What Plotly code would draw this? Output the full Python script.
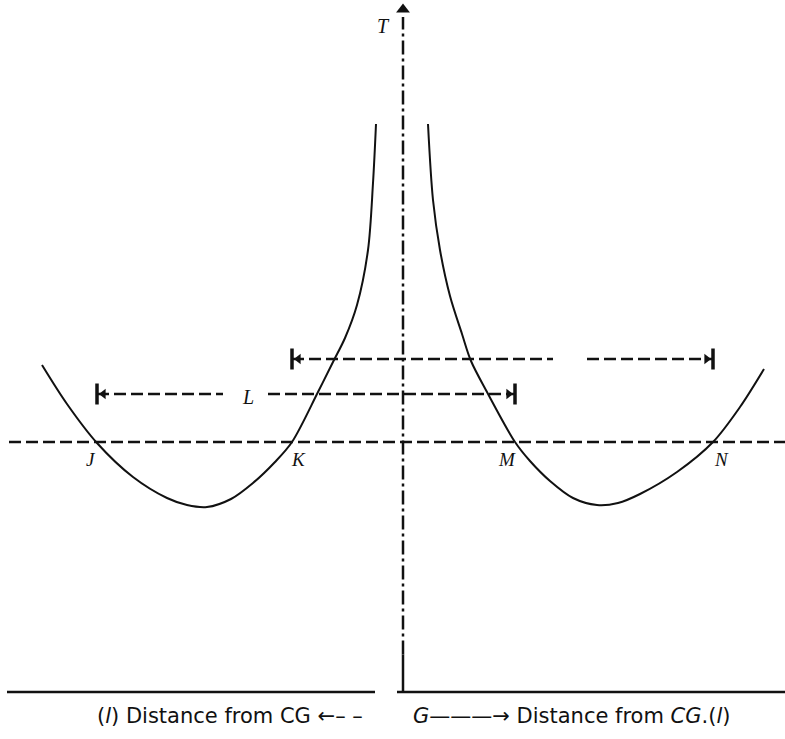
import plotly.graph_objects as go

# Period T of a compound pendulum against the pivot's distance from the centre of gravity G
# Right branch (pivot on the positive side of G): distance (cm), period (s)
dist_right = [6.25, 7.5, 9.25, 11.75, 14.75, 17.0, 21.0, 28.0, 31.75, 36.75, 42.5, 48.5,
              53.75, 59.25, 68.5, 77.5, 84.25, 90.25]
period_right = [4.544, 3.936, 3.536, 3.168, 2.864, 2.648, 2.4, 2.0, 1.848, 1.688, 1.552, 1.496,
                1.512, 1.584, 1.76, 2.0, 2.28, 2.584]

# Left branch (pivot on the negative side of G)
dist_left = [-6.75, -7.5, -8.75, -11.5, -14.5, -17.5, -21.25, -27.75, -32.0, -37.5, -43.0, -49.0,
             -54.0, -59.0, -67.5, -76.5, -84.0, -90.25]
period_left = [4.544, 4.072, 3.536, 3.096, 2.832, 2.64, 2.4, 2.0, 1.84, 1.672, 1.544, 1.48,
               1.496, 1.552, 1.72, 1.992, 2.304, 2.616]

# Chosen period and the four pivot points J, K, M, N that give it
T_chosen = 2.0
point_names = ["J", "K", "M", "N"]
point_dist = [-76.5, -27.75, 28.0, 77.5]

# Equivalent-length markers L (J to M and K to N)
L_low_T = 2.384
L_high_T = 2.664

INK = "#111111"
X_RANGE = [-100.75, 95.5]
Y_RANGE = [-0.376, 5.536]

fig = go.Figure()


def seg(xs, ys, dash="solid", width=2.0):
    fig.add_trace(go.Scatter(x=xs, y=ys, mode="lines", hoverinfo="skip",
                             line=dict(color=INK, width=width, dash=dash)))


# period curves
for xs, ys in ((dist_left, period_left), (dist_right, period_right)):
    fig.add_trace(go.Scatter(x=xs, y=ys, mode="lines", hoverinfo="skip",
                             line=dict(color=INK, width=2.0, shape="spline", smoothing=0.9)))

# horizontal line through J, K, M, N
seg([-98.5, 95.5], [T_chosen, T_chosen], dash="12px,5px", width=2.5)

# L markers: dashed, with gaps for the label
J, K, M, N = point_dist
seg([J, -45.0], [L_low_T, L_low_T], dash="12px,5px", width=2.5)
seg([-33.75, M], [L_low_T, L_low_T], dash="12px,5px", width=2.5)
seg([K, 37.5], [L_high_T, L_high_T], dash="12px,5px", width=2.5)
seg([46.0, N], [L_high_T, L_high_T], dash="12px,5px", width=2.5)

# end bars and arrowheads
fig.add_trace(go.Scatter(x=[J, M, K, N], y=[L_low_T, L_low_T, L_high_T, L_high_T], mode="markers",
                         hoverinfo="skip",
                         marker=dict(symbol="line-ns", size=15, line=dict(color=INK, width=3.5))))
fig.add_trace(go.Scatter(x=[J + 1.6, K + 1.6], y=[L_low_T, L_high_T], mode="markers", hoverinfo="skip",
                         marker=dict(symbol="triangle-left", size=9, color=INK)))
fig.add_trace(go.Scatter(x=[M - 1.6, N - 1.6], y=[L_low_T, L_high_T], mode="markers", hoverinfo="skip",
                         marker=dict(symbol="triangle-right", size=9, color=INK)))

# T axis through G (dash-dot, solid near the base) with arrow
seg([0, 0], [0.3, 5.4], dash="14px,4px,3px,4px", width=2.5)
seg([0, 0], [0, 0.3], width=2.5)
fig.add_trace(go.Scatter(x=[0], y=[5.46], mode="markers", hoverinfo="skip",
                         marker=dict(symbol="triangle-up", size=12, color=INK)))

# base line split on either side of G
seg([-99.0, -7.0], [0, 0], width=2.5)
seg([-1.5, 95.5], [0, 0], width=2.5)

ann = []
serif = dict(family="Liberation Serif", size=20, color=INK)
ann.append(dict(x=-4.8, y=5.33, text="<i>T</i>", showarrow=False, font=serif))
ann.append(dict(x=-38.8, y=2.36, text="<i>L</i>", showarrow=False, font=serif))
label_dx = [-1.5, 1.5, -2.0, 2.0]
for name, d, dx in zip(point_names, point_dist, label_dx):
    ann.append(dict(x=d + dx, y=T_chosen - 0.14, text="<i>" + name + "</i>", showarrow=False,
                    font=dict(family="Liberation Serif", size=19, color=INK)))

sans = dict(family="DejaVu Sans", size=21, color=INK)
ann.append(dict(x=-9.5, y=-0.19, xanchor="right",
                text="(<i>l</i>) Distance from CG \u2190\u2013 \u2013",
                showarrow=False, font=sans))
ann.append(dict(x=2.0, y=-0.19, xanchor="left",
                text="<i>G</i>\u2014\u2014\u2014\u2192 Distance from <i>CG</i>.(<i>l</i>)",
                showarrow=False, font=sans))

fig.update_layout(
    width=785, height=739,
    margin=dict(l=0, r=0, t=0, b=0),
    paper_bgcolor="white", plot_bgcolor="white",
    showlegend=False,
    xaxis=dict(range=X_RANGE, visible=False, fixedrange=True),
    yaxis=dict(range=Y_RANGE, visible=False, fixedrange=True),
    annotations=ann,
)

fig.write_html("out.html")
